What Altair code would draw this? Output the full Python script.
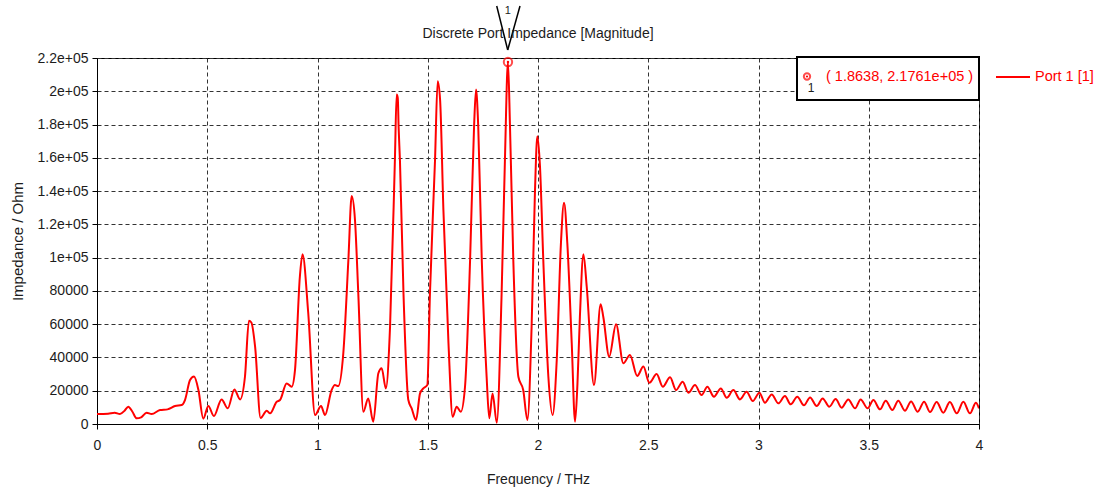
import altair as alt
import pandas as pd

# ---------------- data ----------------
freq_thz = [
    0.0, 0.05, 0.08, 0.104, 0.125, 0.142, 0.16, 0.18, 0.20, 0.225, 0.248, 0.286, 0.32, 0.354,
    0.384, 0.399, 0.422, 0.44, 0.46, 0.482, 0.505, 0.53, 0.565, 0.593, 0.623, 0.649, 0.671,
    0.689, 0.70, 0.717, 0.742, 0.77, 0.785, 0.815, 0.83, 0.86, 0.883, 0.898, 0.92, 0.932,
    0.958, 0.989, 1.016, 1.034, 1.064, 1.079, 1.094, 1.117, 1.14, 1.155, 1.17, 1.185, 1.208,
    1.23, 1.253, 1.276, 1.291, 1.31, 1.329, 1.351, 1.359, 1.364, 1.368, 1.374, 1.39, 1.412,
    1.427, 1.447, 1.465, 1.48, 1.498, 1.51, 1.533, 1.545, 1.556, 1.571, 1.594, 1.613, 1.631,
    1.65, 1.669, 1.692, 1.71, 1.719, 1.729, 1.745, 1.767, 1.779, 1.794, 1.813, 1.835, 1.85,
    1.8638, 1.873, 1.888, 1.911, 1.933, 1.952, 1.971, 1.986, 1.997, 2.009, 2.024, 2.047,
    2.066, 2.085, 2.104, 2.118, 2.133, 2.153, 2.168, 2.179, 2.19, 2.206, 2.221, 2.254, 2.284,
    2.296, 2.323, 2.354, 2.387, 2.417, 2.45, 2.478, 2.505, 2.538, 2.566, 2.599, 2.626, 2.656,
    2.682, 2.712, 2.742, 2.768, 2.798, 2.829, 2.856, 2.886, 2.916, 2.946, 2.974, 3.004,
    3.029, 3.06, 3.09, 3.12, 3.146, 3.176, 3.206, 3.234, 3.264, 3.291, 3.321, 3.35, 3.377,
    3.407, 3.438, 3.463, 3.495, 3.521, 3.551, 3.577, 3.607, 3.634, 3.664, 3.692, 3.722,
    3.751, 3.778, 3.808, 3.838, 3.868, 3.899, 3.929, 3.959, 3.986, 4.0,
]
impedance_ohm = [
    6000, 6200, 6800, 6000, 8000, 10400, 7500, 3400, 4000, 6800, 6000, 8400, 8800, 10800,
    11400, 14400, 26400, 28500, 20400, 3200, 10800, 4800, 14800, 9400, 20800, 14800, 28400,
    62000, 61000, 46500, 3600, 8000, 6400, 13400, 14400, 24400, 22400, 32500, 88500, 102000,
    66700, 5400, 10800, 5400, 20400, 23400, 22800, 42500, 98600, 137000, 122600, 78500, 7400,
    15400, 1400, 30500, 33500, 21400, 58500, 158700, 198000, 196000, 178000, 158000, 78500, 14400,
    9400, 2400, 18400, 21400, 23400, 78500, 158700, 206000, 194800, 128600, 48500, 4400, 10400,
    7400, 22400, 98600, 178700, 201000, 178700, 98600, 28400, 3400, 18400, 800, 78500, 158700,
    217610, 178700, 98600, 28400, 20400, 2400, 58500, 138700, 173000, 154700, 98600, 28400,
    5400, 38500, 108600, 133000, 108600, 48500, 1400, 24400, 64500, 102000, 82500, 23400, 72000,
    64500, 40500, 60000, 36500, 41500, 28900, 34500, 24800, 30000, 22400, 28100, 20400, 25400,
    18800, 23400, 17400, 22400, 16400, 21400, 15800, 20400, 14800, 19400, 13800, 18800,
    12800, 17800, 12400, 16800, 11800, 16400, 11200, 16000, 10800, 15400, 10400, 15000, 9800,
    14800, 9400, 14800, 9400, 14400, 8800, 14000, 8400, 14000, 8000, 13600, 7400,
    13400, 7200, 13200, 6800, 13200, 6400, 13400, 6400, 12800, 9400,
]
marker_freq = [1.8638]
marker_value = [217610]
x_ticks = [0, 0.5, 1, 1.5, 2, 2.5, 3, 3.5, 4]
y_ticks = list(range(0, 220001, 20000))
title_text = "Discrete Port Impedance [Magnitude]"
readout_text = "( 1.8638, 2.1761e+05 )"
series_name = "Port 1 [1]"

df = pd.DataFrame({"f": freq_thz, "v": impedance_ohm})
mk = pd.DataFrame({"f": marker_freq, "v": marker_value})

FONT = "Liberation Sans"
RED = "#ff0000"
INK = "#1c1c1c"

W, H = 882, 366

x_enc = alt.X(
    "f:Q",
    scale=alt.Scale(domain=[0, 4], nice=False, zero=False),
    axis=alt.Axis(
        values=x_ticks, format="~g", title="Frequency / THz",
        grid=True, gridDash=[4, 3], gridColor="#333333", gridWidth=1,
        domainColor="#000000", tickColor="#000000", tickSize=5,
        labelFont=FONT, labelFontSize=14, labelColor=INK, labelPadding=9,
        labelFlush=False, labelOverlap=False,
        titleFont=FONT, titleFontSize=14, titleFontWeight="normal", titleColor=INK,
        titleX=W / 2, titleY=55, titleBaseline="middle", titleAlign="center",
    ),
)
y_enc = alt.Y(
    "v:Q",
    scale=alt.Scale(domain=[0, 220000], nice=False),
    axis=alt.Axis(
        values=y_ticks,
        labelExpr="datum.value >= 100000 ? format(datum.value / 100000, '.1~f') + 'e+05' : format(datum.value, 'd')",
        title="Impedance / Ohm",
        grid=True, gridDash=[4, 3], gridColor="#333333", gridWidth=1,
        domainColor="#000000", tickColor="#000000", tickSize=5,
        labelFont=FONT, labelFontSize=14, labelColor=INK, labelPadding=4,
        labelFlush=False, labelOverlap=False,
        titleFont=FONT, titleFontSize=15, titleFontWeight="normal", titleColor=INK,
        titleX=-80, titleY=H / 2, titleAngle=270, titleBaseline="middle", titleAlign="center",
    ),
)

line = alt.Chart(df).mark_line(color=RED, strokeWidth=2, interpolate="monotone", clip=True).encode(
    x=x_enc, y=y_enc
)

ring = alt.Chart(mk).mark_point(shape="circle", filled=False, color=RED, size=70, strokeWidth=2).encode(
    x=x_enc, y=y_enc
)
dot = alt.Chart(mk).mark_point(shape="circle", filled=True, color=RED, size=6, opacity=1).encode(
    x=x_enc, y=y_enc
)

# V-shaped marker label above the point
vleft = alt.Chart(mk).mark_rule(color="#000000", strokeWidth=1.5).encode(
    x=alt.value(399.7), y=alt.value(-52), x2=alt.value(410.7), y2=alt.value(-8)
)
vright = alt.Chart(mk).mark_rule(color="#000000", strokeWidth=1.5).encode(
    x=alt.value(423), y=alt.value(-52), x2=alt.value(410.7), y2=alt.value(-8)
)
vnum = alt.Chart(mk).mark_text(text="1", font=FONT, fontSize=11, color=INK, baseline="middle").encode(
    x=alt.value(410.7), y=alt.value(-47)
)

title = alt.Chart(mk).mark_text(text=title_text, font=FONT, fontSize=14, color=INK, baseline="middle", align="center").encode(
    x=alt.value(W / 2), y=alt.value(-24)
)

# readout box (top right)
box = alt.Chart(mk).mark_rect(fill="#ffffff", stroke="#000000", strokeWidth=2).encode(
    x=alt.value(700), x2=alt.value(882), y=alt.value(-1), y2=alt.value(42)
)
box_ring = alt.Chart(mk).mark_point(shape="circle", filled=False, color=RED, size=40, strokeWidth=2).encode(
    x=alt.value(710), y=alt.value(18.5)
)
box_dot = alt.Chart(mk).mark_point(shape="circle", filled=True, color=RED, size=5, opacity=1).encode(
    x=alt.value(710), y=alt.value(18.5)
)
box_num = alt.Chart(mk).mark_text(text="1", font=FONT, fontSize=12, color=INK, baseline="middle").encode(
    x=alt.value(714), y=alt.value(30)
)
box_text = alt.Chart(mk).mark_text(text=readout_text, font=FONT, fontSize=14.5, color=RED, baseline="middle", align="left").encode(
    x=alt.value(729), y=alt.value(19)
)

# series legend (outside right)
leg_line = alt.Chart(mk).mark_rule(color=RED, strokeWidth=2).encode(
    x=alt.value(899), x2=alt.value(933), y=alt.value(19)
)
leg_text = alt.Chart(mk).mark_text(text=series_name, font=FONT, fontSize=14.5, color=RED, baseline="middle", align="left").encode(
    x=alt.value(938), y=alt.value(19)
)

chart = alt.layer(
    line, ring, dot, vleft, vright, vnum, title,
    box, box_ring, box_dot, box_num, box_text, leg_line, leg_text,
).properties(
    width=W, height=H,
    autosize=alt.AutoSizeParams(type="none"),
    padding={"left": 97, "top": 58, "right": 125, "bottom": 69},
    background="#ffffff",
).configure_view(
    stroke="#000000", strokeWidth=1
)

chart.save("out.html", embed_options={"renderer": "svg", "actions": False})
